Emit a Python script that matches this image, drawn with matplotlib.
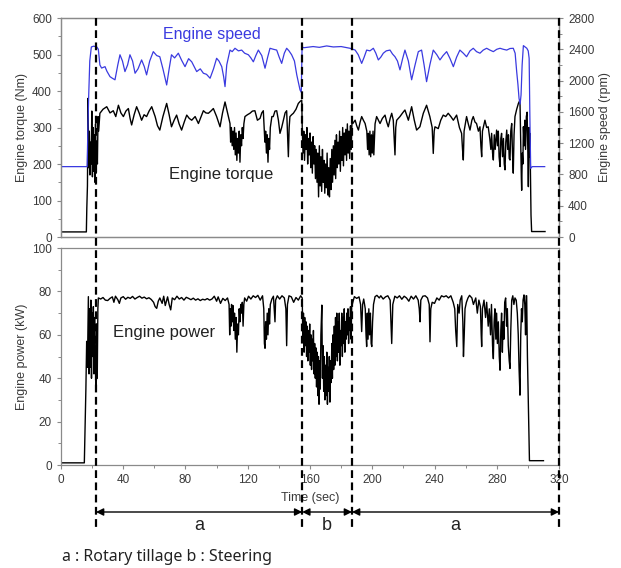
import matplotlib
matplotlib.use('Agg')
import matplotlib.pyplot as plt
import matplotlib.transforms as mtransforms
from matplotlib.lines import Line2D
from matplotlib.ticker import MultipleLocator

plt.rcParams['font.family'] = ['Liberation Sans', 'DejaVu Sans']

# engine speed (time s, rpm)
speed_pts = [
    (0, 900), (16.8, 900), (17.3, 1400), (17.8, 1800), (18.5, 2250), (19.5, 2430), (21.0, 2440),
    (23.0, 2430), (24.0, 2400), (25.0, 2200), (26.1, 2160), (28.3, 2178), (29.5, 2120), (31.5, 2050),
    (33.0, 2030), (34.7, 2010), (36.5, 2200), (37.9, 2330), (39.5, 2250), (41.1, 2115), (42.8, 2200),
    (44.3, 2330), (46.0, 2250), (47.6, 2094), (49.5, 2150), (51.8, 2264), (53.5, 2180), (55.0, 2073),
    (57.0, 2250), (59.3, 2370), (61.5, 2320), (63.5, 2305), (65.5, 2150), (67.9, 1944), (69.5, 2150),
    (71.0, 2330), (73.0, 2290), (75.4, 2350), (77.5, 2260), (79.7, 2178), (82.0, 2280), (84.0, 2240),
    (85.5, 2180), (87.2, 2115), (89.5, 2150), (91.5, 2094), (93.5, 2080), (95.8, 2030), (98.0, 2150),
    (100.0, 2285), (101.5, 2250), (103.3, 2178), (104.5, 2050), (105.4, 1923), (106.5, 2200),
    (108.6, 2390), (110.0, 2370), (111.8, 2413), (114.0, 2380), (116.1, 2390), (118.0, 2350),
    (120.4, 2330), (122.0, 2290), (123.6, 2240), (125.2, 2320), (126.8, 2390), (129.0, 2320),
    (131.1, 2158), (132.8, 2300), (134.3, 2413), (136.5, 2400), (138.6, 2390), (140.2, 2300),
    (141.8, 2220), (143.5, 2350), (145.0, 2413), (146.5, 2380), (148.2, 2330), (150.0, 2250),
    (151.5, 2073), (152.8, 1950), (153.6, 1880), (154.4, 1850), (154.9, 2430), (156.0, 2420),
    (158.0, 2425), (162.0, 2435), (166.0, 2425), (170.7, 2443), (175.0, 2430), (180.0, 2435),
    (185.7, 2413), (187.5, 2400), (189.0, 2390), (191.0, 2330), (193.2, 2220), (194.8, 2300),
    (196.4, 2390), (198.5, 2380), (200.7, 2413), (202.3, 2350), (203.9, 2264), (205.5, 2300),
    (207.1, 2350), (209.0, 2380), (211.4, 2390), (213.0, 2340), (214.6, 2305), (216.2, 2250),
    (217.8, 2137), (219.5, 2280), (221.0, 2390), (223.2, 2250), (225.3, 2010), (227.5, 2200),
    (229.6, 2370), (231.7, 2390), (233.3, 2200), (234.9, 1986), (237.0, 2200), (239.2, 2390),
    (241.5, 2330), (243.5, 2264), (245.5, 2320), (247.8, 2370), (250.0, 2280), (252.1, 2178),
    (254.2, 2300), (256.3, 2390), (258.5, 2350), (260.6, 2305), (262.8, 2380), (264.9, 2413),
    (267.0, 2370), (269.2, 2350), (271.3, 2390), (273.5, 2413), (275.6, 2390), (277.8, 2370),
    (280.0, 2400), (282.1, 2413), (284.2, 2400), (286.4, 2390), (288.5, 2410), (290.6, 2413),
    (291.8, 2350), (292.8, 2114), (293.6, 1950), (294.3, 1774), (295.0, 1700), (295.6, 1816),
    (296.3, 2200), (297.1, 2447), (298.2, 2430), (299.3, 2413), (300.2, 2380), (300.8, 2285),
    (301.3, 1500), (301.8, 878), (302.8, 900), (310.8, 900),
]

# engine torque (time s, Nm)
torque_pts = [
    (0, 14), (16.3, 14), (16.6, 80), (17.0, 140), (17.4, 380), (17.8, 190), (18.2, 290), (18.6, 170),
    (19.0, 260), (19.4, 200), (19.8, 345), (20.2, 165), (20.6, 300), (21.0, 180), (21.4, 280),
    (21.8, 150), (22.2, 310), (22.6, 175), (23.0, 250), (23.4, 200), (23.8, 330), (24.2, 290),
    (25.0, 339), (27.0, 350), (29.4, 357), (31.5, 340), (33.6, 346), (35.2, 330), (36.9, 361),
    (38.5, 340), (40.1, 330), (41.7, 345), (43.3, 352), (44.4, 325), (45.4, 307), (47.0, 335),
    (48.6, 357), (50.2, 340), (51.8, 320), (53.4, 335), (55.0, 330), (56.6, 345), (58.3, 357),
    (60.5, 330), (62.0, 305), (63.5, 293), (65.5, 330), (67.9, 366), (69.5, 335), (71.0, 302),
    (72.7, 320), (74.3, 334), (75.9, 310), (77.5, 293), (79.2, 315), (80.8, 334), (82.4, 325),
    (84.0, 320), (86.2, 330), (88.3, 311), (90.0, 330), (91.5, 346), (93.1, 340), (94.7, 339),
    (96.3, 345), (97.9, 352), (100.0, 330), (102.2, 302), (103.8, 340), (105.4, 370), (107.0, 340),
    (108.6, 311), (109.0, 260), (109.5, 300), (110.0, 250), (110.5, 290), (111.0, 240), (111.5, 300),
    (112.0, 225), (112.5, 285), (113.0, 210), (113.5, 270), (114.0, 230), (114.5, 290), (115.0, 205),
    (115.5, 280), (116.0, 250), (116.5, 300), (117.0, 270), (117.5, 310), (118.2, 330), (119.8, 335),
    (121.4, 339), (123.0, 345), (124.6, 346), (126.2, 320), (127.9, 325), (129.0, 340), (130.0, 346),
    (130.5, 300), (131.0, 260), (131.5, 290), (132.0, 230), (132.5, 280), (133.0, 205), (133.5, 270),
    (134.0, 240), (134.5, 300), (135.5, 330), (136.4, 330), (137.5, 345), (138.6, 346), (139.7, 320),
    (140.7, 284), (141.8, 300), (142.9, 320), (144.0, 340), (145.0, 346), (145.6, 280), (146.1, 220),
    (146.6, 300), (147.1, 330), (148.2, 335), (149.3, 339), (151.0, 350), (152.5, 366), (153.8, 372),
    (154.7, 375), (155.0, 300), (155.5, 230), (156.0, 290), (156.5, 210), (157.0, 280), (157.5, 240),
    (158.0, 300), (158.5, 200), (159.0, 270), (159.5, 225), (160.0, 285), (160.5, 190), (161.0, 260),
    (161.5, 175), (162.0, 275), (162.5, 200), (163.0, 250), (163.5, 160), (164.0, 240), (164.5, 150),
    (165.0, 230), (165.5, 110), (166.0, 250), (166.5, 140), (167.0, 220), (167.5, 125), (168.0, 240),
    (168.5, 150), (169.0, 210), (169.5, 120), (170.0, 200), (170.5, 135), (171.0, 230), (171.5, 115),
    (172.0, 190), (172.5, 110), (173.0, 215), (173.5, 130), (174.0, 240), (174.5, 150), (175.0, 250),
    (175.5, 170), (176.0, 265), (176.5, 160), (177.0, 280), (177.5, 190), (178.0, 260), (178.5, 200),
    (179.0, 290), (179.5, 180), (180.0, 275), (180.5, 210), (181.0, 300), (181.5, 195), (182.0, 285),
    (182.5, 225), (183.0, 295), (183.5, 210), (184.0, 310), (184.5, 230), (185.0, 290), (185.5, 215),
    (186.0, 305), (186.5, 240), (187.0, 320), (187.5, 311), (189.0, 320), (190.0, 305), (191.1, 293),
    (192.2, 315), (193.2, 330), (194.3, 320), (195.4, 311), (196.5, 290), (197.0, 240), (197.5, 284),
    (198.0, 225), (198.5, 290), (199.0, 220), (199.5, 280), (200.0, 230), (200.5, 290), (201.0, 225),
    (201.8, 310), (202.8, 330), (204.0, 320), (205.0, 311), (206.5, 325), (208.2, 334), (209.3, 315),
    (210.3, 302), (211.5, 325), (212.5, 339), (213.5, 320), (214.6, 225), (215.1, 300), (215.7, 320),
    (217.8, 330), (219.5, 340), (221.0, 348), (223.2, 320), (225.3, 357), (227.0, 320), (228.5, 293),
    (230.6, 302), (232.8, 339), (234.9, 361), (237.0, 330), (238.5, 300), (239.2, 229), (239.8, 290),
    (240.3, 302), (242.4, 297), (244.0, 320), (245.6, 334), (247.2, 330), (248.8, 339), (250.5, 330),
    (252.1, 320), (254.2, 334), (256.0, 300), (257.4, 284), (258.0, 240), (258.5, 211), (259.0, 290),
    (260.6, 330), (261.7, 310), (262.8, 293), (264.0, 320), (264.9, 330), (266.0, 315), (267.0, 311),
    (268.2, 290), (269.2, 302), (269.8, 250), (270.3, 220), (270.8, 290), (272.4, 320), (273.5, 300),
    (274.5, 302), (275.5, 270), (276.2, 240), (276.7, 284), (277.3, 230), (277.8, 211), (278.4, 280),
    (279.0, 240), (279.9, 293), (280.5, 250), (281.0, 290), (281.5, 220), (282.1, 193), (282.6, 270),
    (283.1, 284), (283.7, 220), (284.3, 270), (284.8, 200), (285.3, 184), (285.8, 260), (286.4, 293),
    (287.0, 240), (287.5, 280), (288.0, 215), (288.5, 211), (289.0, 290), (289.6, 311), (290.1, 230),
    (290.6, 175), (291.1, 280), (291.7, 330), (292.8, 350), (293.9, 366), (294.9, 375), (295.4, 250),
    (295.8, 160), (296.0, 128), (296.4, 230), (296.8, 200), (297.1, 302), (297.6, 250), (298.0, 320),
    (298.5, 240), (299.0, 330), (299.5, 342), (299.9, 250), (300.3, 138), (300.7, 300), (301.0, 220),
    (301.3, 284), (301.7, 150), (302.0, 60), (302.4, 15), (311.0, 15),
]

# engine power (time s, kW)
power_pts = [
    (0, 1), (15.0, 1), (15.5, 17), (16.0, 35), (16.5, 57), (17.0, 45), (17.6, 77.6), (18.0, 42),
    (18.4, 72), (18.8, 45), (19.2, 76), (19.6, 40), (20.0, 70), (20.4, 50), (20.8, 73), (21.2, 42),
    (21.6, 68), (22.0, 48), (22.5, 37), (22.9, 65), (23.3, 40), (23.7, 72), (24.0, 77),
    (25.5, 76.5), (27.0, 77.2), (28.5, 76.0), (30.0, 75.8), (31.5, 76.8), (33.0, 77.5), (34.0, 75.0),
    (35.0, 77.8), (36.5, 76.2), (37.5, 74.5), (38.5, 77.0), (40.0, 77.6), (41.5, 76.4), (43.0, 77.3),
    (44.5, 76.8), (46.0, 77.7), (47.5, 76.5), (49.0, 77.2), (50.5, 77.8), (52.0, 76.9), (53.5, 77.4),
    (55.0, 76.6), (56.5, 77.1), (58.0, 76.3), (59.5, 75.0), (60.5, 73.0), (61.5, 72.2), (62.5, 75.5),
    (63.5, 77.0), (65.0, 74.5), (66.0, 77.8), (67.0, 73.5), (68.5, 77.5), (69.5, 74.0), (70.5, 71.5),
    (71.5, 77.0), (73.0, 76.2), (74.5, 77.8), (76.0, 76.5), (77.5, 77.2), (79.0, 76.0), (80.5, 77.3),
    (82.0, 76.8), (83.5, 76.2), (85.0, 76.9), (86.5, 76.0), (88.0, 76.6), (89.5, 75.8), (91.0, 76.4),
    (92.5, 76.1), (94.0, 76.7), (95.5, 76.0), (97.0, 76.5), (98.5, 77.8), (100.0, 75.5), (101.0, 77.5),
    (102.5, 74.5), (104.0, 76.8), (105.5, 75.8), (107.0, 77.0),
    (108.0, 74.0), (108.4, 60.0), (108.8, 72.0), (109.2, 64.0), (109.6, 74.0), (110.0, 66.0),
    (110.5, 73.5), (111.0, 62.0), (111.5, 70.0), (112.0, 58.0), (112.5, 68.0), (113.0, 52.0),
    (113.5, 65.0), (114.0, 60.0), (114.5, 72.0), (115.0, 66.0), (115.5, 74.0), (116.0, 70.0),
    (116.5, 75.0), (117.0, 64.0), (117.5, 74.0), (118.0, 77.0), (119.3, 75.5), (120.5, 77.8),
    (122.0, 76.5), (123.5, 78.0), (125.0, 77.2), (126.5, 78.2), (128.0, 76.0), (129.5, 78.0),
    (130.3, 72.0), (130.7, 56.0), (131.1, 53.8), (131.5, 66.0), (132.0, 58.0), (132.5, 70.0),
    (133.0, 60.0), (133.5, 72.0), (134.0, 65.0), (134.5, 74.0), (135.5, 76.5), (136.5, 77.8),
    (137.2, 70.0), (137.5, 66.0), (137.9, 76.0), (139.0, 78.0), (140.5, 76.5), (142.0, 78.0),
    (143.5, 77.0), (144.5, 72.0), (145.0, 55.0), (145.5, 74.0), (146.5, 78.0), (148.0, 77.5),
    (149.5, 75.0), (151.0, 77.2), (152.5, 76.0), (154.0, 78.0), (155.0, 77.0),
    (155.4, 58), (155.8, 70), (156.2, 52), (156.6, 68), (157.0, 55), (157.4, 66), (157.8, 50),
    (158.2, 64), (158.6, 48), (159.0, 62), (159.4, 52), (159.8, 65), (160.2, 46), (160.6, 60),
    (161.0, 44), (161.4, 58), (161.8, 48), (162.2, 62), (162.6, 42), (163.0, 56), (163.4, 40),
    (163.8, 54), (164.2, 36), (164.6, 52), (165.0, 32), (165.4, 50), (165.8, 28), (166.2, 48),
    (166.6, 35), (167.0, 60), (167.6, 73.7), (168.0, 40), (168.4, 55), (168.8, 34), (169.2, 50),
    (169.6, 30), (170.0, 46), (170.4, 32), (170.8, 52), (171.2, 28), (171.6, 45), (172.0, 34),
    (172.4, 50), (172.8, 29), (173.2, 48), (173.6, 38), (174.0, 56), (174.4, 40), (174.8, 60),
    (175.2, 44), (175.6, 64), (176.0, 46), (176.4, 68), (176.8, 50), (177.2, 70), (177.6, 48),
    (178.0, 66), (178.4, 52), (178.8, 70), (179.2, 46), (179.6, 62), (180.0, 55), (180.4, 70),
    (180.8, 50), (181.2, 68), (181.6, 56), (182.0, 72), (182.4, 52), (182.8, 66), (183.2, 58),
    (183.6, 70), (184.0, 60), (184.4, 72), (184.8, 56), (185.2, 68), (185.6, 62), (186.0, 73),
    (186.4, 58), (186.8, 73),
    (187.5, 75), (188.5, 77.6), (190.0, 76.8), (191.5, 77.5), (192.5, 74.0), (193.2, 61.5),
    (193.8, 74.0), (194.5, 76.5), (195.5, 72.0), (196.0, 60.0), (196.4, 54.6), (196.8, 70.0),
    (197.3, 58.0), (197.8, 72.0), (198.3, 60.0), (198.8, 70.0), (199.3, 56.0), (199.7, 54.6),
    (200.2, 66.0), (200.8, 74.0), (201.8, 77.6), (203.0, 78.2), (204.5, 77.0), (205.5, 78.0),
    (207.0, 76.5), (208.5, 77.5), (210.0, 78.0), (211.5, 76.0), (212.5, 56.0), (213.2, 74.0),
    (214.5, 77.8), (216.0, 77.0), (217.5, 78.0), (219.0, 76.4), (220.5, 77.8), (222.0, 77.0),
    (223.5, 75.5), (225.0, 77.8), (226.5, 76.5), (228.0, 78.0), (229.5, 76.0), (230.2, 72.0),
    (230.7, 66.0), (231.2, 76.0), (232.5, 77.8), (234.0, 78.0), (235.5, 77.0), (236.6, 74.0),
    (237.1, 56.8), (237.6, 72.0), (238.5, 75.0), (240.0, 74.5), (241.5, 77.0), (243.0, 76.0),
    (244.5, 78.0), (246.0, 77.5), (247.5, 78.0), (249.0, 77.0), (250.5, 78.0), (252.0, 75.0),
    (253.0, 72.0), (253.6, 62.0), (254.3, 54.6), (254.9, 74.0), (255.8, 70.0), (256.5, 76.0),
    (257.5, 78.0), (258.2, 66.0), (258.6, 50.0), (259.1, 60.0), (259.6, 72.0), (260.5, 75.0),
    (261.5, 77.0), (262.5, 78.2), (264.0, 77.0), (265.0, 74.0), (266.5, 77.0), (267.5, 70.0),
    (268.5, 76.0), (269.5, 73.0), (270.0, 60.0), (270.3, 54.6), (270.8, 72.0), (271.8, 76.0),
    (272.8, 68.0), (273.5, 75.0), (274.5, 64.0), (275.2, 72.0), (276.0, 60.0), (276.6, 74.0),
    (277.3, 55.0), (277.8, 49.0), (278.3, 66.0), (278.8, 72.0), (279.4, 58.0), (279.9, 70.0),
    (280.4, 56.0), (281.0, 66.0), (281.6, 50.0), (282.1, 43.7), (282.6, 62.0), (283.1, 70.0),
    (283.6, 52.0), (284.1, 66.0), (284.6, 58.0), (285.1, 75.0), (285.7, 77.0), (286.3, 64.0),
    (286.8, 72.0), (287.4, 55.0), (288.0, 48.0), (288.5, 44.5), (289.0, 62.0), (289.6, 76.0),
    (290.3, 78.0), (291.0, 74.0), (291.7, 77.0), (292.5, 76.0), (293.2, 70.0), (293.8, 60.0),
    (294.3, 45.0), (294.9, 32.2), (295.4, 60.0), (295.9, 72.0), (296.4, 66.0), (296.9, 76.0),
    (297.5, 78.4), (298.0, 74.0), (298.5, 60.0), (298.9, 78.0), (299.2, 78.0), (299.7, 50.0),
    (300.3, 28.0), (300.7, 12.0), (301.0, 2.0), (310.0, 2.0),
]

# operation phases: boundaries (s) and labels
phase_edges = [22.5, 155, 187, 320]
phase_labels = ['a', 'b', 'a']

speed_t, speed_rpm = zip(*speed_pts)
torque_t, torque_nm = zip(*torque_pts)
power_t, power_kw = zip(*power_pts)

GRAY = '#8a8a8a'
TXT = '#3a3a3a'
BLUE = '#3a3ae0'


def style(ax):
    for s in ax.spines.values():
        s.set_color(GRAY)
        s.set_linewidth(0.9)
    ax.tick_params(colors=GRAY, labelcolor=TXT, labelsize=8.5, length=3, width=0.8)
    ax.tick_params(which='minor', colors=GRAY, length=2, width=0.7)


fig = plt.figure(figsize=(6.21, 5.68), dpi=100)
ax1 = fig.add_axes([0.0982, 0.5827, 0.802, 0.3856])
ax1r = ax1.twinx()
ax2 = fig.add_axes([0.0982, 0.1813, 0.802, 0.382])

ax1.plot(torque_t, torque_nm, color='black', lw=1.0)
ax1r.plot(speed_t, speed_rpm, color=BLUE, lw=0.9)
ax2.plot(power_t, power_kw, color='black', lw=1.0)

for ax in (ax1, ax1r, ax2):
    style(ax)
    ax.set_xlim(0, 320)

ax1.set_ylim(0, 600)
ax1.yaxis.set_major_locator(MultipleLocator(100))
ax1.yaxis.set_minor_locator(MultipleLocator(50))
ax1.tick_params(axis='x', which='both', bottom=False, labelbottom=False)
ax1.set_ylabel('Engine torque (Nm)', fontsize=9, color=TXT, labelpad=3)

ax1r.set_ylim(0, 2800)
ax1r.yaxis.set_major_locator(MultipleLocator(400))
ax1r.yaxis.set_minor_locator(MultipleLocator(200))
ax1r.set_ylabel('Engine speed (rpm)', fontsize=9, color=TXT, labelpad=3)

ax2.set_ylim(0, 100)
ax2.yaxis.set_major_locator(MultipleLocator(20))
ax2.yaxis.set_minor_locator(MultipleLocator(10))
ax2.xaxis.set_major_locator(MultipleLocator(40))
ax2.xaxis.set_minor_locator(MultipleLocator(20))
ax2.set_ylabel('Engine power (kW)', fontsize=9, color=TXT, labelpad=3)
ax2.set_xlabel('Time (sec)', fontsize=9, color=TXT, labelpad=4)

ax1.text(97, 555, 'Engine speed', color=BLUE, fontsize=11.5, ha='center', va='center')
ax1.text(103, 170, 'Engine torque', color='#222222', fontsize=12, ha='center', va='center')
ax2.text(66, 61, 'Engine power', color='#222222', fontsize=12, ha='center', va='center')

# dashed phase boundaries running through both panels
trans = mtransforms.blended_transform_factory(ax2.transData, fig.transFigure)
for t in phase_edges:
    fig.add_artist(Line2D([t, t], [0.968, 0.067], transform=trans, color='black',
                          lw=1.6, linestyle=(0, (3.5, 2))))

arrow_y = 1 - 512 / 568
for i, lab in enumerate(phase_labels):
    x0, x1 = phase_edges[i], phase_edges[i + 1]
    ax2.annotate('', xy=(x1, arrow_y), xytext=(x0, arrow_y), xycoords=trans, textcoords=trans,
                 annotation_clip=False,
                 arrowprops=dict(arrowstyle='<|-|>', color='black', lw=1.0,
                                 shrinkA=0, shrinkB=0, mutation_scale=11))
    fig.text((x0 + x1) / 2, 1 - 525 / 568, lab, transform=trans, ha='center', va='center',
             fontsize=13, color='#222222')

fig.text(62 / 621, 1 - 557 / 568, 'a : Rotary tillage b : Steering', fontsize=11.5,
         color='#222222', va='center', ha='left', family=['Noto Sans', 'DejaVu Sans'])

fig.savefig('out.png', dpi=100)
